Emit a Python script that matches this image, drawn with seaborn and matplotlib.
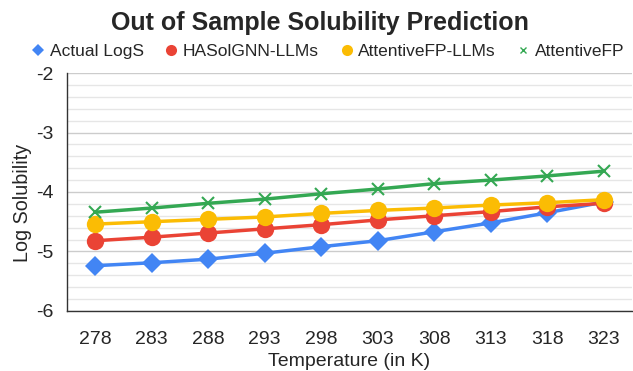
import matplotlib
matplotlib.use("Agg")
import matplotlib.pyplot as plt
from matplotlib.lines import Line2D
from matplotlib.ticker import MultipleLocator
import seaborn as sns
import pandas as pd

temperatures = ["278", "283", "288", "293", "298", "303", "308", "313", "318", "323"]
actual_logs = [-5.24, -5.19, -5.13, -5.03, -4.92, -4.82, -4.67, -4.52, -4.35, -4.17]
hasolgnn_llms = [-4.82, -4.76, -4.69, -4.62, -4.55, -4.47, -4.40, -4.33, -4.25, -4.19]
attentivefp_llms = [-4.54, -4.50, -4.46, -4.42, -4.36, -4.31, -4.27, -4.22, -4.18, -4.13]
attentivefp = [-4.34, -4.27, -4.19, -4.12, -4.03, -3.95, -3.86, -3.80, -3.73, -3.65]

series_names = ["Actual LogS", "HASolGNN-LLMs", "AttentiveFP-LLMs", "AttentiveFP"]
series_values = [actual_logs, hasolgnn_llms, attentivefp_llms, attentivefp]
colors = ["#4285F4", "#EA4335", "#FBBC04", "#34A853"]
markers = ["D", "o", "o", "x"]
msizes = [10, 12.5, 12.5, 8.5]

rows = []
for name, vals in zip(series_names, series_values):
    for i, (t, v) in enumerate(zip(temperatures, vals)):
        rows.append({"idx": i, "Temperature": t, "value": v, "series": name})
df = pd.DataFrame(rows)

sns.set_style("white")
plt.rcParams["font.family"] = ["Liberation Sans", "DejaVu Sans"]

fig = plt.figure(figsize=(6.33, 3.71), dpi=100)
ax = fig.add_axes([0.106, 0.162, 0.892, 0.641])

for k in range(len(series_names)):
    sub = df[df["series"] == series_names[k]]
    sns.lineplot(data=sub, x="idx", y="value", ax=ax, color=colors[k],
                 marker=markers[k], markersize=msizes[k], linewidth=2.5,
                 markeredgecolor=colors[k], markeredgewidth=1.5 if markers[k] == "x" else 0,
                 legend=False, zorder=3 + k)

ax.set_xlim(-0.5, len(temperatures) - 0.5)
ax.set_ylim(-6, -2)
ax.set_xticks(range(len(temperatures)))
ax.set_xticklabels(temperatures)
ax.yaxis.set_major_locator(MultipleLocator(1))
ax.yaxis.set_minor_locator(MultipleLocator(0.2))
ax.set_yticklabels([f"{int(v)}" for v in ax.get_yticks()])
ax.grid(True, which="major", axis="y", color="#cccccc", linewidth=1.0, zorder=0)
ax.grid(True, which="minor", axis="y", color="#e6e6e6", linewidth=1.0, zorder=0)
ax.set_axisbelow(True)

for s in ["top", "right"]:
    ax.spines[s].set_visible(False)
for s in ["left", "bottom"]:
    ax.spines[s].set_color("#333333")
    ax.spines[s].set_linewidth(1.0)

ax.tick_params(axis="x", which="major", direction="inout", length=12, width=1,
               color="#333333", labelsize=14, pad=8.5)
ax.tick_params(axis="y", which="major", direction="out", length=6, width=1,
               color="#333333", labelsize=14, pad=4)
ax.tick_params(axis="y", which="minor", length=0)

ax.set_xlabel("Temperature (in K)", fontsize=14, labelpad=3.5)
ax.set_ylabel("Log Solubility", fontsize=14.2)
ax.yaxis.set_label_coords(-0.062, 0.454)

fig.suptitle("Out of Sample Solubility Prediction", fontsize=18, fontweight="bold",
             x=0.505, y=0.97)

handles = [Line2D([], [], linestyle="none", marker=m, color=c, markeredgecolor=c,
                  markersize=ms, markeredgewidth=1 if m == "x" else 0)
           for m, c, ms in zip(markers, colors, [6, 8, 8, 5])]
fig.legend(handles, series_names, loc="center", bbox_to_anchor=(0.515, 0.862),
           ncol=4, frameon=False, fontsize=12.5, handletextpad=0.05,
           columnspacing=1.0, handlelength=1.2)

fig.savefig("out.png", dpi=100)
